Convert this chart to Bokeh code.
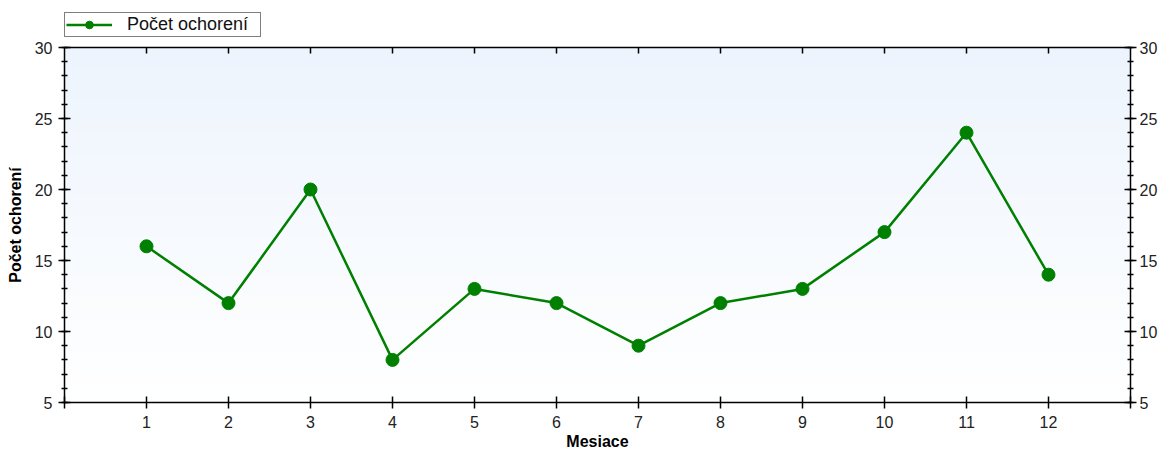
import numpy as np
from bokeh.plotting import figure
from bokeh.layouts import column
from bokeh.models import Range1d, LinearAxis, FixedTicker, Legend, LegendItem
from bokeh.embed import file_html
from bokeh.resources import INLINE

months = [1, 2, 3, 4, 5, 6, 7, 8, 9, 10, 11, 12]
cases = [16, 12, 20, 8, 13, 12, 9, 12, 13, 17, 24, 14]
series_name = "Počet ochorení"
x_title = "Mesiace"
y_title = "Počet ochorení"
x_ticks = list(range(0, 14))
y_ticks = [5, 10, 15, 20, 25, 30]

FONT = "Liberation Sans"
GREEN = "#008000"
W = 1160

p = figure(width=W, height=414, output_backend="svg", toolbar_location=None,
           x_range=Range1d(0, 13), y_range=Range1d(5, 30),
           min_border_left=64, min_border_right=29, min_border_top=9, min_border_bottom=0,
           background_fill_color="white", border_fill_color="white", outline_line_color=None)
p.grid.visible = False

# vertical gradient background (light blue at top -> white at bottom)
top = np.array([0xed, 0xf4, 0xfd], dtype=float)
bot = np.array([0xff, 0xff, 0xff], dtype=float)
n = 200
t = np.linspace(0, 1, n)
cols = (bot[None, :] * (1 - t[:, None]) + top[None, :] * t[:, None]).round().astype(np.uint32)
rgba = (255 << 24) | (cols[:, 2] << 16) | (cols[:, 1] << 8) | cols[:, 0]
img = np.tile(rgba[:, None], (1, 2)).astype(np.uint32)
p.image_rgba(image=[img], x=0, y=5, dw=13, dh=25, level="image")

p.line(months, cases, line_color=GREEN, line_width=2.5)
p.scatter(months, cases, size=13, fill_color=GREEN, line_color=GREEN)

def style_axis(ax, labels=True):
    ax.axis_line_color = "black"
    ax.axis_line_width = 1.5
    ax.major_tick_line_color = "black"
    ax.major_tick_line_width = 1.5
    ax.minor_tick_line_color = "black"
    ax.minor_tick_line_width = 1.5
    ax.major_label_text_font = FONT
    ax.major_label_text_font_size = "16px" if labels else "0px"
    ax.major_label_text_color = "#222222"
    ax.axis_label_text_font = FONT
    ax.axis_label_text_font_size = "16px"
    ax.axis_label_text_font_style = "bold"
    ax.axis_label_text_color = "black"

xlab = {v: (str(v) if 1 <= v <= 12 else "") for v in x_ticks}

xb = p.xaxis[0]
xb.ticker = FixedTicker(ticks=x_ticks)
xb.major_label_overrides = xlab
xb.axis_label = x_title
style_axis(xb)
xb.major_tick_in = 6
xb.major_tick_out = 6
xb.major_label_standoff = 7
xb.axis_label_standoff = 2

yl = p.yaxis[0]
yl.ticker = FixedTicker(ticks=y_ticks, minor_ticks=list(range(5, 31)))
yl.axis_label = y_title
style_axis(yl)
yl.major_tick_in = 6
yl.major_tick_out = 6
yl.minor_tick_in = 3
yl.minor_tick_out = 3
yl.major_label_standoff = 6
yl.axis_label_standoff = 8

yr = LinearAxis(ticker=FixedTicker(ticks=y_ticks, minor_ticks=list(range(5, 31))))
style_axis(yr)
yr.major_tick_in = 6
yr.major_tick_out = 6
yr.minor_tick_in = 3
yr.minor_tick_out = 3
yr.major_label_standoff = 3
p.add_layout(yr, "right")

xt = LinearAxis(ticker=FixedTicker(ticks=months))
style_axis(xt, labels=False)
xt.major_tick_in = 6
xt.major_tick_out = 0
xt.minor_tick_line_color = None
xt.major_label_standoff = 0
p.add_layout(xt, "above")

# legend strip above the chart
lg = figure(width=W, height=38, output_backend="svg", toolbar_location=None,
            x_range=Range1d(100, 101), y_range=Range1d(100, 101),
            min_border=0, outline_line_color=None,
            background_fill_color="white", border_fill_color="white")
lg.axis.visible = False
lg.grid.visible = False
l_line = lg.line(months, cases, line_color=GREEN, line_width=2.5)
l_pts = lg.scatter(months, cases, size=13, fill_color=GREEN, line_color=GREEN)
legend = Legend(items=[LegendItem(label=series_name, renderers=[l_line, l_pts])],
                location=(0, 1), orientation="horizontal",
                border_line_color="black", border_line_width=1.5,
                background_fill_color="white", background_fill_alpha=1,
                label_text_font=FONT, label_text_font_size="18px", label_text_color="#111111",
                glyph_width=46, glyph_height=19, label_standoff=15, label_width=132,
                padding=1, spacing=0, margin=0, label_height=19)
lg.add_layout(legend, "center")

layout = column(lg, p, spacing=0)
open("out.html", "w").write(file_html(layout, INLINE))
